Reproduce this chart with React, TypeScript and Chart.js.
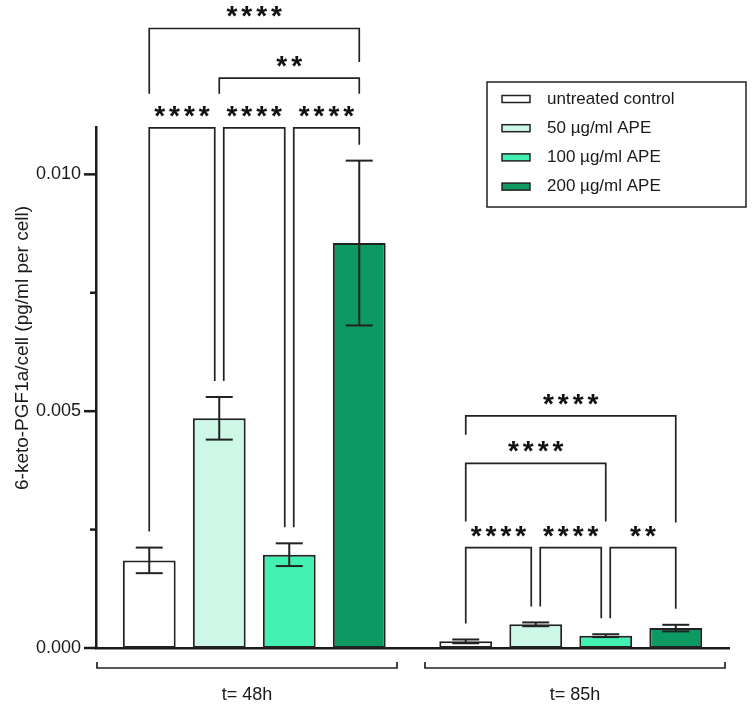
import { useEffect, useRef } from 'react';
import { Chart, registerables } from 'chart.js';

Chart.register(...registerables);

// ---------- data ----------
const categories = ['t= 48h', 't= 85h'];
const seriesLabels = ['untreated control', '50 µg/ml APE', '100 µg/ml APE', '200 µg/ml APE'];
const controlValues = [0.00185, 0.00014];
const ape50Values = [0.00485, 0.0005];
const ape100Values = [0.00197, 0.00026];
const ape200Values = [0.00855, 0.00042];
const controlErrors = [0.00027, 0.00004];
const ape50Errors = [0.00045, 0.00004];
const ape100Errors = [0.00024, 0.00003];
const ape200Errors = [0.00174, 0.00007];
const yMajorTicks = [0, 0.005, 0.01];
const yMinorTicks = [0.0025, 0.0075];
const yTitle = '6-keto-PGF1a/cell (pg/ml per cell)';

// significance brackets (group index, bar from, bar to, level in data units, leg ends; null = just above error bar)
const brackets = [
  { group: 0, from: 0, to: 1, level: 0.01098, legFrom: null, legTo: null, label: '****' },
  { group: 0, from: 1, to: 2, level: 0.01098, legFrom: null, legTo: null, label: '****' },
  { group: 0, from: 2, to: 3, level: 0.01098, legFrom: null, legTo: null, label: '****' },
  { group: 0, from: 1, to: 3, level: 0.01203, legFrom: 0.0117, legTo: 0.0117, label: '**' },
  { group: 0, from: 0, to: 3, level: 0.01308, legFrom: 0.0117, legTo: 0.01237, label: '****' },
  { group: 1, from: 0, to: 1, level: 0.00212, legFrom: null, legTo: null, label: '****' },
  { group: 1, from: 1, to: 2, level: 0.00212, legFrom: null, legTo: null, label: '****' },
  { group: 1, from: 2, to: 3, level: 0.00212, legFrom: null, legTo: null, label: '**' },
  { group: 1, from: 0, to: 2, level: 0.0039, legFrom: 0.00267, legTo: 0.00267, label: '****' },
  { group: 1, from: 0, to: 3, level: 0.0049, legFrom: 0.0045, legTo: 0.00265, label: '****' },
];

const seriesValues = [controlValues, ape50Values, ape100Values, ape200Values];
const seriesErrors = [controlErrors, ape50Errors, ape100Errors, ape200Errors];
const seriesColors = ['#ffffff', '#cdf7e6', '#42f1b1', '#0c9a62'];

const INK = '#222222';
const FONT = '"Liberation Sans", Arial, sans-serif';

function line(ctx: CanvasRenderingContext2D, x1: number, y1: number, x2: number, y2: number) {
  ctx.beginPath();
  ctx.moveTo(x1, y1);
  ctx.lineTo(x2, y2);
  ctx.stroke();
}

const overlayPlugin = {
  id: 'overlay',
  afterDraw(chart: any) {
    const ctx: CanvasRenderingContext2D = chart.ctx;
    const ys = chart.scales.y;
    const xs = chart.scales.x;
    const area = chart.chartArea;
    ctx.save();
    ctx.strokeStyle = INK;
    ctx.fillStyle = INK;
    ctx.lineCap = 'butt';

    // error bars
    const errTopPx: number[][] = [];
    seriesErrors.forEach((errs, d) => {
      const meta = chart.getDatasetMeta(d);
      errTopPx[d] = [];
      meta.data.forEach((bar: any, i: number) => {
        const v = seriesValues[d][i];
        const e = errs[i];
        const top = ys.getPixelForValue(v + e);
        const bot = ys.getPixelForValue(v - e);
        errTopPx[d][i] = top;
        ctx.lineWidth = 2;
        line(ctx, bar.x, top, bar.x, bot);
        line(ctx, bar.x - 13.5, top, bar.x + 13.5, top);
        line(ctx, bar.x - 13.5, bot, bar.x + 13.5, bot);
      });
    });

    // significance brackets
    ctx.lineWidth = 1.7;
    brackets.forEach((b) => {
      const barFrom = chart.getDatasetMeta(b.from).data[b.group];
      const barTo = chart.getDatasetMeta(b.to).data[b.group];
      const adjacent = b.to - b.from === 1;
      const xFrom = barFrom.x + (adjacent && b.from > 0 ? 4.5 : 0);
      const xTo = barTo.x - (adjacent && b.to < 3 ? 4.5 : 0);
      const yLine = ys.getPixelForValue(b.level);
      const yLegFrom = b.legFrom === null ? errTopPx[b.from][b.group] - 16 : ys.getPixelForValue(b.legFrom);
      const yLegTo = b.legTo === null ? errTopPx[b.to][b.group] - 16 : ys.getPixelForValue(b.legTo);
      ctx.beginPath();
      ctx.moveTo(xFrom, yLegFrom);
      ctx.lineTo(xFrom, yLine);
      ctx.lineTo(xTo, yLine);
      ctx.lineTo(xTo, yLegTo);
      ctx.stroke();
      ctx.font = `bold 28px ${FONT}`;
      (ctx as any).letterSpacing = '4px';
      const s = b.label;
      const m = ctx.measureText(s);
      const w = m.actualBoundingBoxRight + m.actualBoundingBoxLeft;
      const cx = (xFrom + xTo) / 2;
      const cy = yLine - 16.5;
      ctx.textAlign = 'left';
      ctx.textBaseline = 'alphabetic';
      ctx.fillStyle = '#111111';
      ctx.fillText(s, cx - w / 2 + m.actualBoundingBoxLeft, cy + (m.actualBoundingBoxAscent - m.actualBoundingBoxDescent) / 2);
      (ctx as any).letterSpacing = '0px';
    });

    // y tick marks
    ctx.lineWidth = 2.5;
    ctx.strokeStyle = '#1a1a1a';
    yMajorTicks.forEach((t) => {
      const py = ys.getPixelForValue(t);
      line(ctx, area.left - 12, py, area.left, py);
    });
    yMinorTicks.forEach((t) => {
      const py = ys.getPixelForValue(t);
      line(ctx, area.left - 6, py, area.left, py);
    });

    // y title
    ctx.save();
    ctx.translate(23, 348);
    ctx.rotate(-Math.PI / 2);
    ctx.font = `19px ${FONT}`;
    ctx.fillStyle = '#1a1a1a';
    ctx.textAlign = 'center';
    ctx.textBaseline = 'middle';
    ctx.fillText(yTitle, 0, 0);
    ctx.restore();

    // group brackets and category labels
    const half = (xs.getPixelForValue(1) - xs.getPixelForValue(0)) / 2;
    ctx.lineWidth = 1.7;
    ctx.strokeStyle = INK;
    categories.forEach((c, i) => {
      const cx = xs.getPixelForValue(i);
      const l = cx - half + (i === 0 ? 1 : 12.5);
      const r = cx + half - (i === 0 ? 15.5 : 4);
      const by = area.bottom + 20;
      ctx.beginPath();
      ctx.moveTo(l, by - 6);
      ctx.lineTo(l, by);
      ctx.lineTo(r, by);
      ctx.lineTo(r, by - 6);
      ctx.stroke();
      ctx.font = `18px ${FONT}`;
      ctx.fillStyle = '#1a1a1a';
      ctx.textAlign = 'center';
      ctx.textBaseline = 'alphabetic';
      ctx.fillText(c, (l + r) / 2, 700);
    });

    // legend
    ctx.lineWidth = 1.5;
    ctx.strokeStyle = INK;
    ctx.strokeRect(487, 82, 259, 125);
    seriesLabels.forEach((lab, i) => {
      const ry = 99 + i * 29.2;
      ctx.fillStyle = seriesColors[i];
      ctx.fillRect(502, ry - 3.5, 28, 7);
      ctx.strokeRect(502, ry - 3.5, 28, 7);
      ctx.fillStyle = '#1a1a1a';
      ctx.font = `17px ${FONT}`;
      ctx.textAlign = 'left';
      ctx.textBaseline = 'middle';
      ctx.fillText(lab, 547, ry);
    });
    ctx.restore();
  },
};

export default function App() {
  const canvasRef = useRef<HTMLCanvasElement | null>(null);

  useEffect(() => {
    if (!canvasRef.current) return;
    const chart = new Chart(canvasRef.current, {
      type: 'bar',
      data: {
        labels: categories,
        datasets: seriesLabels.map((label, d) => ({
          label,
          data: seriesValues[d],
          backgroundColor: seriesColors[d],
          borderColor: INK,
          borderWidth: 2,
          borderSkipped: false,
          categoryPercentage: 0.8847,
          barPercentage: 0.755,
        })),
      },
      options: {
        animation: false,
        responsive: false,
        devicePixelRatio: 1,
        layout: { padding: { top: 127, right: 27, left: 0, bottom: 0 } },
        plugins: { legend: { display: false }, tooltip: { enabled: false } },
        scales: {
          x: {
            grid: { display: false },
            border: { display: true, color: '#1a1a1a', width: 2.5 },
            ticks: { display: false },
            afterFit: (s: any) => {
              s.height = 58;
            },
          },
          y: {
            min: 0,
            max: 0.011,
            grid: { display: false },
            border: { display: true, color: '#1a1a1a', width: 2.5 },
            ticks: {
              stepSize: 0.0025,
              autoSkip: false,
              padding: 7,
              color: '#1a1a1a',
              font: { family: FONT, size: 18 },
              callback: (v: any) => {
                const n = Number(v);
                const r = n / 0.005;
                return Math.abs(r - Math.round(r)) < 1e-6 ? n.toFixed(3) : '';
              },
            },
            afterFit: (s: any) => {
              s.width = 96;
            },
          },
        },
      },
      plugins: [overlayPlugin],
    });
    return () => chart.destroy();
  }, []);

  return (
    <div style={{ position: 'absolute', left: 0, top: 0, width: 756, height: 706, background: '#ffffff' }}>
      <canvas ref={canvasRef} width={756} height={706} />
    </div>
  );
}
